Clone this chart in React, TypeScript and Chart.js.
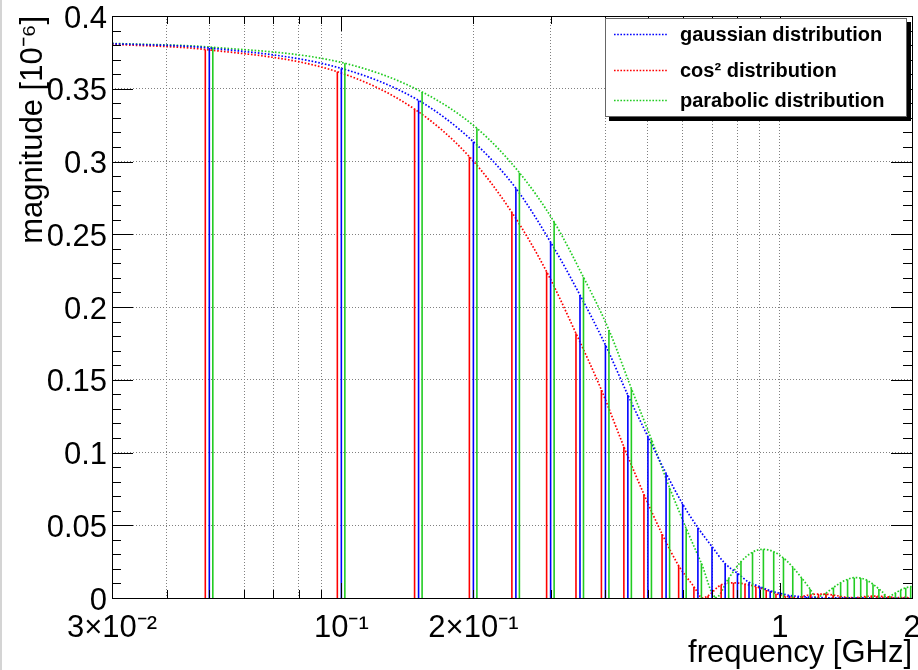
import React, { useEffect, useRef } from 'react';
import { Chart, registerables } from 'chart.js';

Chart.register(...registerables);

// ---------------- data ----------------
const harmonics = [
  0.05, 0.1, 0.15, 0.2, 0.25, 0.3, 0.35, 0.4, 0.45, 0.5,
  0.55, 0.6, 0.65, 0.7, 0.75, 0.8, 0.85, 0.9, 0.95, 1.0,
  1.05, 1.1, 1.15, 1.2, 1.25, 1.3, 1.35, 1.4, 1.45, 1.5,
  1.55, 1.6, 1.65, 1.7, 1.75, 1.8, 1.85, 1.9, 1.95, 2.0,
];

const gaussianStems = [
  0.378, 0.364, 0.342, 0.3136, 0.2816, 0.2445, 0.2082, 0.1739, 0.1395, 0.1109,
  0.0857, 0.0646, 0.0483, 0.0353, 0.0236, 0.017, 0.0108, 0.0078, 0.005, 0.0032,
  0.0018, 0.0011, 0.0007, 0.0004, 0.0002, 0.00015, 0.0001, 0.0001, 0.00005, 0.00005,
  0.00003, 0.00003, 0.00002, 0.00002, 0.00001, 0.00001, 0.00001, 0.00001, 0.00001, 0.00001,
];

const cos2Stems = [
  0.377, 0.3617, 0.336, 0.3033, 0.265, 0.2243, 0.1819, 0.143, 0.104, 0.0713,
  0.044, 0.0222, 0.0078, 0.0015, 0.0091, 0.0104, 0.0096, 0.0078, 0.0055, 0.003,
  0.0012, 0.0004, 0.0012, 0.0022, 0.0027, 0.0026, 0.002, 0.0012, 0.0005, 0.0002,
  0.0006, 0.001, 0.0013, 0.0013, 0.0011, 0.0008, 0.0004, 0.0002, 0.0004, 0.0007,
];

const parabolicStems = [
  0.3785, 0.3675, 0.3478, 0.3228, 0.2923, 0.2584, 0.2204, 0.1842, 0.144, 0.109,
  0.0758, 0.0479, 0.0238, 0.0008, 0.0135, 0.025, 0.0315, 0.0335, 0.0318, 0.0275,
  0.0212, 0.0138, 0.0062, 0.0005, 0.0035, 0.0072, 0.0105, 0.0128, 0.014, 0.0137,
  0.0122, 0.0095, 0.0062, 0.0025, 0.0012, 0.0035, 0.0055, 0.007, 0.0078, 0.0082,
];

// value of each curve at the left edge of the plot (0.03 GHz)
const curveStartFreq = 0.03;
const curveStartValues = [0.381, 0.3806, 0.3812]; // gaussian, cos2, parabolic

// zero crossings of the dotted curves (GHz)
const gaussianZeros: number[] = [];
const cos2Zeros = [0.68, 1.12, 1.5, 1.9];
const parabolicZeros = [0.7, 1.19, 1.72];

const seriesNames = ['gaussian distribution', 'cos\u00B2 distribution', 'parabolic distribution'];
const seriesColors = ['#0000ff', '#ff0000', '#22cc22'];

const xGridValues = [
  0.03, 0.04, 0.05, 0.06, 0.07, 0.08, 0.09,
  0.1, 0.2, 0.3, 0.4, 0.5, 0.6, 0.7, 0.8, 0.9,
  1, 2,
];
const xLabelValues = [0.03, 0.1, 0.2, 1, 2];
const xLabelTexts = ['3\u00D710\u207B\u00B2', '10\u207B\u00B9', '2\u00D710\u207B\u00B9', '1', '2'];
const yTickValues = [0, 0.05, 0.1, 0.15, 0.2, 0.25, 0.3, 0.35, 0.4];

// ---------------- helpers ----------------
const FONT = '"Liberation Sans", Arial, Helvetica, sans-serif';
// small horizontal offsets (multiplicative on log axis) that separate the three stem families
const seriesShift = [1.0, 0.9792, 1.0186];

function stemPoints(stems: number[], shift: number) {
  const pts: { x: number; y: number | null }[] = [];
  harmonics.forEach((f, i) => {
    pts.push({ x: f * shift, y: 0 });
    pts.push({ x: f * shift, y: stems[i] });
    pts.push({ x: f * shift, y: null });
  });
  return pts;
}

function curvePoints(stems: number[], shift: number, start: number, zeros: number[]) {
  const pts: { x: number; y: number }[] = [{ x: curveStartFreq, y: start }];
  harmonics.forEach((f, i) => pts.push({ x: f * shift, y: stems[i] }));
  zeros.forEach((z) => pts.push({ x: z * shift, y: 0 }));
  pts.sort((a, b) => a.x - b.x);
  return pts;
}

const decorPlugin = {
  id: 'rootDecor',
  afterDatasetsDraw(chart: any) {
    const { ctx, chartArea, scales } = chart;
    const { left, right, top, bottom } = chartArea;
    const xs = scales.x;
    const ys = scales.y;
    ctx.save();
    ctx.strokeStyle = '#000';
    ctx.lineWidth = 1;
    ctx.setLineDash([]);
    // inside ticks on y (left and right)
    for (let k = 0; k <= 40; k++) {
      const v = k / 100;
      const py = Math.round(ys.getPixelForValue(v)) + 0.5;
      const len = k % 5 === 0 ? 21 : 9;
      ctx.beginPath();
      ctx.moveTo(left, py);
      ctx.lineTo(left + len, py);
      ctx.moveTo(right, py);
      ctx.lineTo(right - len, py);
      ctx.stroke();
    }
    // inside ticks on x (bottom and top)
    xGridValues.forEach((v) => {
      const px = Math.round(xs.getPixelForValue(v)) + 0.5;
      const major = Math.abs(Math.log10(v) - Math.round(Math.log10(v))) < 1e-6;
      const len = major ? 15 : 8;
      ctx.beginPath();
      ctx.moveTo(px, bottom);
      ctx.lineTo(px, bottom - len);
      ctx.moveTo(px, top);
      ctx.lineTo(px, top + len);
      ctx.stroke();
    });
    // frame
    ctx.strokeRect(Math.round(left) + 0.5, Math.round(top) + 0.5, Math.round(right - left), Math.round(bottom - top));

    // legend
    const lx = 605, ly = 18, lw = 302, lh = 99;
    ctx.fillStyle = '#000';
    ctx.fillRect(lx + 4, ly + 4, lw, lh);
    ctx.fillStyle = '#fff';
    ctx.fillRect(lx, ly, lw, lh);
    ctx.strokeStyle = '#666';
    ctx.lineWidth = 1;
    ctx.strokeRect(lx + 0.5, ly + 0.5, lw - 1, lh - 1);
    const rows = [34, 70, 100];
    [0, 1, 2].forEach((si, r) => {
      const yy = rows[r] + 0.5;
      ctx.strokeStyle = seriesColors[si];
      ctx.lineWidth = 1.6;
      ctx.setLineDash([1.6, 1.6]);
      ctx.beginPath();
      ctx.moveTo(614, yy);
      ctx.lineTo(668, yy);
      ctx.stroke();
      ctx.setLineDash([]);
      ctx.fillStyle = '#000';
      ctx.font = `bold 20px ${FONT}`;
      ctx.textBaseline = 'middle';
      ctx.textAlign = 'left';
      ctx.fillText(seriesNames[si], 680, rows[r] + 1);
    });
    // light grey canvas edge on the left
    ctx.fillStyle = '#d4d4d4';
    ctx.fillRect(0, 0, 2, chart.height);
    ctx.restore();
  },
};

export default function App() {
  const ref = useRef<HTMLCanvasElement | null>(null);

  useEffect(() => {
    document.body.style.margin = '0';
    document.body.style.overflow = 'hidden';
    const canvas = ref.current;
    if (!canvas) return;

    const stemSets = [gaussianStems, cos2Stems, parabolicStems];
    const zeroSets = [gaussianZeros, cos2Zeros, parabolicZeros];
    const datasets: any[] = [];
    // stems first
    [1, 0, 2].forEach((si) => {
      datasets.push({
        label: seriesNames[si] + ' stems',
        data: stemPoints(stemSets[si], seriesShift[si]),
        borderColor: seriesColors[si],
        borderWidth: 1.6,
        pointRadius: 0,
        spanGaps: false,
        fill: false,
        tension: 0,
      });
    });
    // dotted envelopes
    [0, 1, 2].forEach((si) => {
      datasets.push({
        label: seriesNames[si],
        data: curvePoints(stemSets[si], seriesShift[si], curveStartValues[si], zeroSets[si]),
        borderColor: seriesColors[si],
        borderWidth: 1.7,
        borderDash: [1.6, 1.8],
        pointRadius: 0,
        fill: false,
        cubicInterpolationMode: 'monotone',
      });
    });

    const chart = new Chart(canvas, {
      type: 'line',
      data: { datasets },
      plugins: [decorPlugin],
      options: {
        responsive: false,
        animation: false,
        events: [],
        layout: { padding: { top: 16, right: 6, left: 0, bottom: 0 } },
        plugins: { legend: { display: false }, tooltip: { enabled: false } },
        scales: {
          x: {
            type: 'logarithmic',
            min: 0.03,
            max: 2,
            afterBuildTicks: (scale: any) => {
              scale.ticks = xGridValues.map((v) => ({ value: v }));
            },
            afterFit: (scale: any) => {
              scale.height = 72;
              scale.paddingLeft = 0;
              scale.paddingRight = 0;
            },
            ticks: {
              autoSkip: false,
              maxRotation: 0,
              minRotation: 0,
              padding: 12,
              color: '#000',
              font: { family: FONT, size: 31, lineHeight: 1.2 },
              callback: (value: any) => {
                const v = Number(value);
                const idx = xLabelValues.findIndex((t) => Math.abs(t - v) / t < 1e-6);
                return idx >= 0 ? xLabelTexts[idx] : '';
              },
            },
            grid: { color: '#808080', lineWidth: 1, drawTicks: false },
            border: { display: false, dash: [1, 2] },
            title: {
              display: true,
              text: 'frequency [GHz]',
              align: 'end',
              color: '#000',
              font: { family: FONT, size: 31, lineHeight: 1 },
              padding: { top: 0, bottom: 1 },
            },
          },
          y: {
            type: 'linear',
            min: 0,
            max: 0.4,
            afterBuildTicks: (scale: any) => {
              scale.ticks = yTickValues.map((v) => ({ value: v }));
            },
            afterFit: (scale: any) => {
              scale.width = 112;
              scale.paddingTop = 0;
              scale.paddingBottom = 0;
            },
            ticks: {
              padding: 5,
              labelOffset: 3,
              color: '#000',
              font: { family: FONT, size: 31, lineHeight: 1.2 },
              callback: (value: any) => String(parseFloat(Number(value).toFixed(2))),
            },
            grid: { color: '#808080', lineWidth: 1, drawTicks: false },
            border: { display: false, dash: [1, 2] },
            title: {
              display: true,
              text: 'magnitude [10\u207B\u2076]',
              align: 'end',
              color: '#000',
              font: { family: FONT, size: 31, lineHeight: 1 },
              padding: { top: 18, bottom: 0 },
            },
          },
        },
      } as any,
    });

    return () => chart.destroy();
  }, []);

  return (
    <div style={{ width: 918, height: 670, background: '#fff' }}>
      <canvas ref={ref} width={918} height={670} style={{ display: 'block' }} />
    </div>
  );
}
